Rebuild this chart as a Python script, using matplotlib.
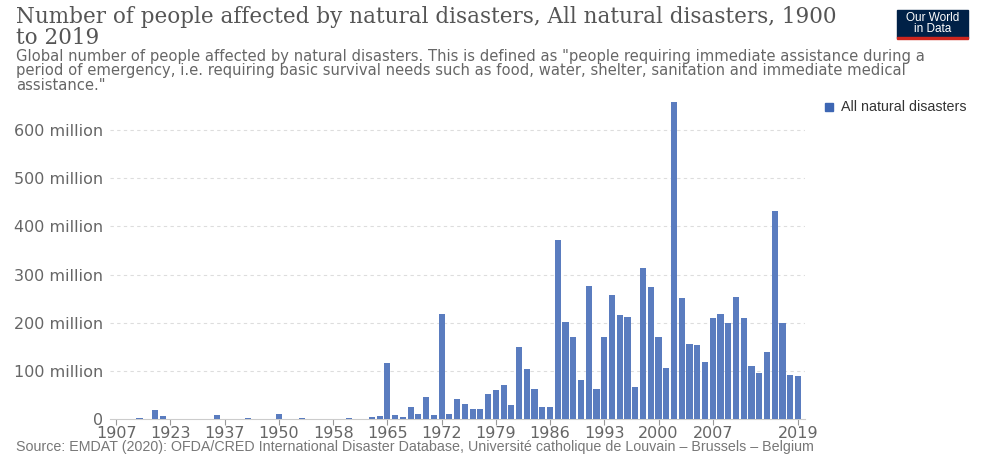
import matplotlib.pyplot as plt
from matplotlib.patches import Rectangle

# years that have a bar (early decades are sparse)
early_years = [1907, 1909, 1910, 1911, 1915, 1920, 1921, 1923, 1924, 1926,
               1927, 1928, 1931, 1935, 1937, 1939, 1941, 1942, 1943, 1946,
               1947, 1950, 1951, 1952, 1953, 1954, 1955, 1956, 1958, 1959,
               1960, 1961, 1962, 1963, 1964]
early_affected = [0.1, 0.2, 0.3, 3.0, 0.5, 19.5, 6.0, 0.2, 1.0, 0.1,
                  0.1, 0.1, 0.1, 9.5, 0.2, 0.1, 0.1, 2.0, 0.1, 0.1,
                  0.1, 10.5, 0.3, 1.0, 2.5, 0.3, 1.0, 1.0, 0.3, 1.0,
                  2.5, 1.2, 0.2, 5.2, 7.3]

late_years = list(range(1965, 2018)) + [2019]
late_affected = [116, 9.3, 5, 24.6, 10.8, 45.4, 8.7, 217.6, 10.8, 41.9,
                 32.2, 21.2, 20.5, 51.7, 60, 71.6, 30.1, 149, 103.5, 62,
                 24.6, 26.2, 371.8, 201, 170, 81.5, 276, 62, 170, 258,
                 216, 211, 66, 313, 274, 171, 105.5, 658, 251, 157,
                 153, 119, 210.6, 217.5, 199.5, 253.5, 209, 109.7, 95.9, 138.8,
                 432.6, 198.8, 91.7, 90.3]

years = early_years + late_years
affected = early_affected + late_affected  # millions of people

tick_years = [1907, 1923, 1937, 1950, 1958, 1965, 1972, 1979, 1986,
              1993, 2000, 2007, 2019]
y_ticks = [0, 100, 200, 300, 400, 500, 600]
y_labels = ["0"] + [f"{v} million" for v in y_ticks[1:]]

W, H = 982, 455
fig = plt.figure(figsize=(W / 100, H / 100), dpi=100)
ax = fig.add_axes([110 / W, (H - 419.2) / H, 695 / W, (419.2 - 91.4) / H])

pos = list(range(len(years)))
ax.bar(pos, affected, width=0.8, color="#5a7cbf", zorder=3)

ax.set_xlim(-0.8, len(years) - 0.1)
ax.set_ylim(0, 680)
ax.set_yticks(y_ticks)
ax.set_yticklabels(y_labels)
ax.set_xticks([years.index(y) for y in tick_years])
ax.set_xticklabels([str(y) for y in tick_years])

for v in y_ticks[1:]:
    ax.axhline(v, color="#dddddd", lw=0.8, ls=(0, (3, 3)), zorder=1)

for s in ["top", "right", "left"]:
    ax.spines[s].set_visible(False)
ax.spines["bottom"].set_color("#cccccc")
ax.tick_params(axis="y", length=0, pad=5, labelsize=11.5, labelcolor="#666666")
ax.tick_params(axis="x", length=4, width=0.8, color="#999999", pad=1,
               labelsize=11.5, labelcolor="#666666")

fig.text(16 / W, 1 - 6 / H, "Number of people affected by natural disasters, All natural disasters, 1900\nto 2019",
         family="DejaVu Serif", fontsize=15.5, color="#555555", va="top", linespacing=0.92)
fig.text(16 / W, 1 - 49 / H,
         'Global number of people affected by natural disasters. This is defined as "people requiring immediate assistance during a\n'
         'period of emergency, i.e. requiring basic survival needs such as food, water, shelter, sanitation and immediate medical\n'
         'assistance."',
         family="DejaVu Sans", fontsize=10.6, color="#666666", va="top", linespacing=0.95)

# legend
fig.patches.append(Rectangle((825 / W, 1 - 111 / H), 8 / W, 8 / H,
                             transform=fig.transFigure, color="#3d66b3"))
fig.text(841 / W, 1 - 107 / H, "All natural disasters", family="Liberation Sans",
         fontsize=10.3, color="#333333", va="center")

# logo
fig.patches.append(Rectangle((897 / W, 1 - 38 / H), 71 / W, 28 / H,
                             transform=fig.transFigure, color="#002147"))
fig.patches.append(Rectangle((897 / W, 1 - 39 / H), 71 / W, 2 / H,
                             transform=fig.transFigure, color="#ce261e"))
fig.text(932.5 / W, 1 - 23.5 / H, "Our World\nin Data", family="Liberation Sans",
         fontsize=8.5, color="white", ha="center", va="center", linespacing=0.95)

fig.text(16 / W, 4 / H,
         "Source: EMDAT (2020): OFDA/CRED International Disaster Database, Université catholique de Louvain – Brussels – Belgium",
         family="Liberation Sans", fontsize=10.3, color="#777777", va="baseline")

fig.savefig("out.png", dpi=100)
